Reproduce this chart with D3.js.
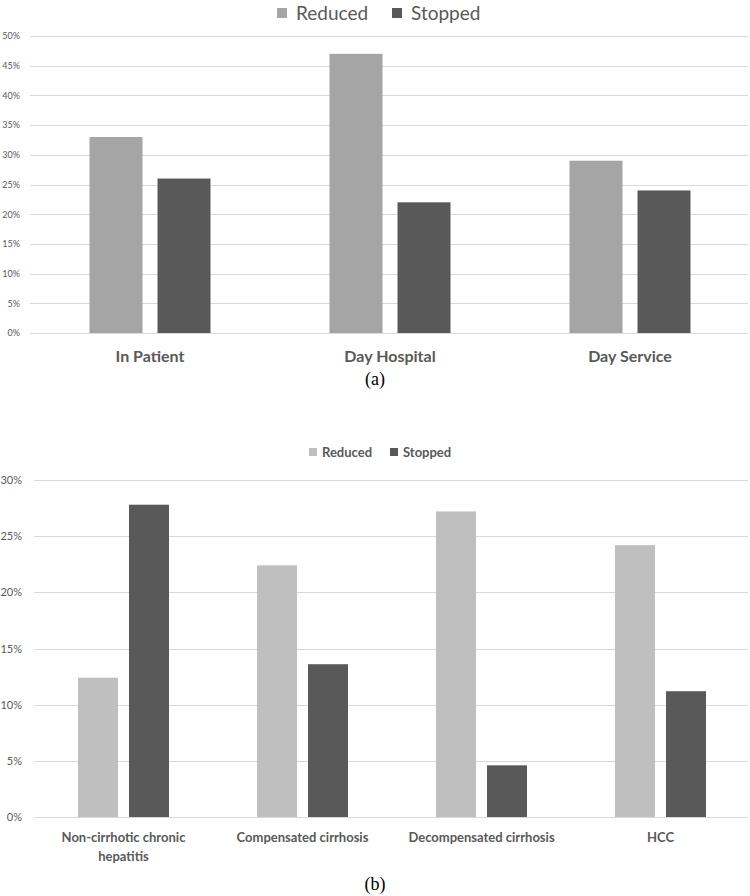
<!DOCTYPE html>
<html><head><meta charset="utf-8">
<script src="https://cdn.jsdelivr.net/npm/d3@7"></script>
<style>body{margin:0;background:#fff}svg{display:block}</style>
</head><body>
<svg id="c" width="750" height="896"></svg>
<script>
// Chart (a)
const catsA = ["In Patient", "Day Hospital", "Day Service"];
const reducedA = [33, 47, 29];
const stoppedA = [26, 22, 24];
const ticksA = [0, 5, 10, 15, 20, 25, 30, 35, 40, 45, 50];
// Chart (b)
const catsB = [["Non-cirrhotic chronic", "hepatitis"], ["Compensated cirrhosis"], ["Decompensated cirrhosis"], ["HCC"]];
const reducedB = [12.4, 22.4, 27.2, 24.2];
const stoppedB = [27.8, 13.6, 4.6, 11.2];
const ticksB = [0, 5, 10, 15, 20, 25, 30];
const seriesNames = ["Reduced", "Stopped"];

const svg = d3.select("#c");
const font = "Lato, 'Open Sans', sans-serif";
const txt = "#595959";
const grid = "#d9d9d9";

function drawChart(o) {
  const g = svg.append("g");
  const x = d3.scaleBand().domain(d3.range(o.cats.length)).range([o.x0, o.x1]);
  const y = d3.scaleLinear().domain([0, o.max]).range([o.yBottom, o.yTop]);
  const sub = d3.scaleOrdinal().domain([0, 1]).range([-(o.gap / 2 + o.bw), o.gap / 2]);
  // gridlines
  g.selectAll("line.grid").data(o.ticks).join("line")
    .attr("x1", o.x0).attr("x2", o.x1 - 2)
    .attr("y1", d => Math.round(y(d)) + 0.5).attr("y2", d => Math.round(y(d)) + 0.5)
    .attr("stroke", grid).attr("stroke-width", 1);
  // y-axis labels
  const ax = d3.axisLeft(y).tickValues(o.ticks).tickFormat(d => d + "%").tickSize(0).tickPadding(0);
  const axg = g.append("g").attr("transform", `translate(${o.labelX},0)`).call(ax);
  axg.select(".domain").remove();
  axg.selectAll("text").attr("font-family", font).attr("font-size", o.tickFs).attr("fill", txt);
  // bars
  const series = [o.reduced, o.stopped];
  series.forEach((vals, si) => {
    g.selectAll(null).data(vals).join("rect")
      .attr("x", (d, i) => x(i) + x.bandwidth() / 2 + sub(si))
      .attr("width", o.bw)
      .attr("y", d => y(d))
      .attr("height", d => y(0) - y(d))
      .attr("fill", o.colors[si]);
  });
  // category labels
  o.cats.forEach((c, i) => {
    const lines = Array.isArray(c) ? c : [c];
    lines.forEach((ln, li) => {
      g.append("text").attr("x", x(i) + x.bandwidth() / 2).attr("y", o.catY + li * o.catLH)
        .attr("text-anchor", "middle").attr("font-family", font).attr("font-weight", "bold")
        .attr("font-size", o.catFs).attr("fill", txt).text(ln);
    });
  });
  // legend
  const lg = g.append("g");
  let lx = o.legX;
  seriesNames.forEach((n, si) => {
    lg.append("rect").attr("x", lx).attr("y", o.legY - o.sq / 2).attr("width", o.sq).attr("height", o.sq).attr("fill", o.colors[si]);
    lg.append("text").attr("x", lx + o.sq + o.legPad).attr("y", o.legY).attr("dy", "0.35em")
      .attr("font-family", font).attr("font-size", o.legFs).attr("font-weight", o.legW).attr("fill", txt).text(n);
    lx = o.legX2;
  });
  // caption
  g.append("text").attr("x", 375).attr("y", o.capY).attr("text-anchor", "middle")
    .attr("font-family", "'Liberation Serif', 'DejaVu Serif', serif").attr("font-size", 18).attr("fill", "#000").text(o.cap);
}

drawChart({
  cats: catsA, reduced: reducedA, stopped: stoppedA, ticks: ticksA, max: 50,
  x0: 30, x1: 750, yTop: 36, yBottom: 333, bw: 53, gap: 15,
  labelX: 20, tickFs: 9, catY: 362, catLH: 18, catFs: 16,
  colors: ["#a5a5a5", "#595959"],
  legX: 277, legX2: 392, legY: 13, sq: 10, legPad: 9, legFs: 19, legW: "normal",
  capY: 385, cap: "(a)"
});

drawChart({
  cats: catsB, reduced: reducedB, stopped: stoppedB, ticks: ticksB, max: 30,
  x0: 34, x1: 750, yTop: 480, yBottom: 817, bw: 40, gap: 11,
  labelX: 22, tickFs: 11, catY: 842, catLH: 19, catFs: 13,
  colors: ["#bfbfbf", "#595959"],
  legX: 309, legX2: 390, legY: 452, sq: 8, legPad: 5, legFs: 13, legW: "bold",
  capY: 890, cap: "(b)"
});
</script>
</body></html>
